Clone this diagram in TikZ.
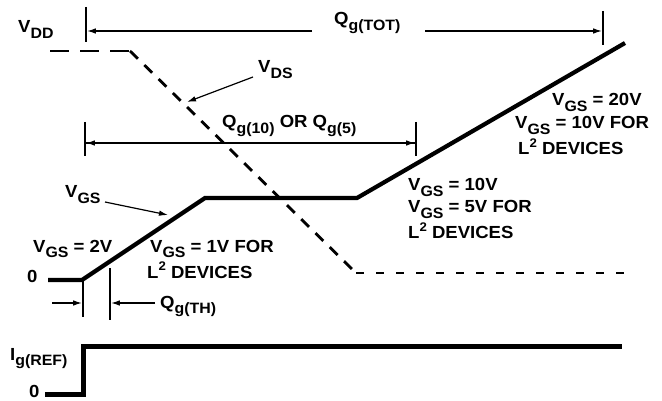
\documentclass[tikz,border=0pt]{standalone}
\usepackage{fontspec}
\setmainfont[FakeStretch=1.06]{Liberation Sans}
\usetikzlibrary{arrows.meta}
\newcommand{\sbs}[1]{\raisebox{-0.3em}{\fontsize{15}{15}\selectfont #1}}
\newcommand{\sps}[1]{\raisebox{0.42em}{\fontsize{12.5}{12.5}\selectfont #1}}
\tikzset{
  lbl/.style={font=\fontsize{17.5}{19}\selectfont\bfseries, inner sep=0pt, anchor=base west},
  thinln/.style={line width=1.4pt},
  arr/.style={line width=1.4pt, -{Latex[length=9pt,width=5.5pt]}},
  wave/.style={line width=4.2pt, line join=miter},
  dsh/.style={line width=2.8pt},
}
\begin{document}
\begin{tikzpicture}[x=1pt,y=-1pt]
\useasboundingbox (0,0) rectangle (662,401);
% labels
\node[lbl] (vdd) at (18,33) {V\sbs{DD}};
\node[lbl] (qtot) at (334,25) {Q\sbs{g(TOT)}};
\node[lbl] (vds) at (258,73) {V\sbs{DS}};
\node[lbl] (q10) at (222,128) {Q\sbs{g(10)} OR Q\sbs{g(5)}};
\node[lbl] (vgs) at (65,198) {V\sbs{GS}};
\node[lbl] (r1) at (552,106) {V\sbs{GS} = 20V};
\node[lbl] (r2) at (515,129) {V\sbs{GS} = 10V FOR};
\node[lbl] (r3) at (518,155) {L\sps{2} DEVICES};
\node[lbl] (m1) at (408,191) {V\sbs{GS} = 10V};
\node[lbl] (m2) at (408,213) {V\sbs{GS} = 5V FOR};
\node[lbl] (m3) at (408,239) {L\sps{2} DEVICES};
\node[lbl] (l0) at (33,252) {V\sbs{GS} = 2V};
\node[lbl] (l1) at (150,252) {V\sbs{GS} = 1V FOR};
\node[lbl] (l2) at (147,278) {L\sps{2} DEVICES};
\node[lbl] (z1) at (27,283) {0};
\node[lbl] (qth) at (160,308) {Q\sbs{g(TH)}};
\node[lbl] (ig) at (10,360) {I\sbs{g(REF)}};
\node[lbl] (z2) at (29,397) {0};
% coordinates
\coordinate (t1a) at (86,7);   \coordinate (t1b) at (86,42);
\coordinate (t2a) at (603,11); \coordinate (t2b) at (603,45);
\coordinate (a1s) at (312,31); \coordinate (a1e) at (86,31);
\coordinate (a2s) at (425,31); \coordinate (a2e) at (603,31);
\coordinate (t3a) at (85,122); \coordinate (t3b) at (85,156);
\coordinate (t4a) at (416,122); \coordinate (t4b) at (416,156);
\coordinate (a3s) at (416,143); \coordinate (a3e) at (85,143);
\coordinate (vds0) at (50,51); \coordinate (vds1) at (130,51);
\coordinate (vds2) at (356,273); \coordinate (vds3) at (628,273);
\coordinate (g0) at (48,280); \coordinate (g1) at (82,280);
\coordinate (g2) at (205,198); \coordinate (g3) at (357,198);
\coordinate (g4) at (625,43);
\coordinate (t5a) at (83,280); \coordinate (t5b) at (83,317);
\coordinate (t6a) at (110,268); \coordinate (t6b) at (110,320);
\coordinate (a4s) at (52,303); \coordinate (a4e) at (83,303);
\coordinate (a5s) at (155,303); \coordinate (a5e) at (110,303);
\coordinate (i0) at (45,394); \coordinate (i1) at (83,394);
\coordinate (i2) at (83,346); \coordinate (i3) at (622,346);
\coordinate (vdsq) at (253,77); \coordinate (vdsp) at (187,102);
\coordinate (vgsq) at (105,202); \coordinate (vgsp) at (168,215);
% ticks
\draw[thinln] (t1a) -- (t1b);
\draw[thinln] (t2a) -- (t2b);
\draw[thinln] (t3a) -- (t3b);
\draw[thinln] (t4a) -- (t4b);
\draw[thinln] (t5a) -- (t5b);
\draw[thinln] (t6a) -- (t6b);
% dimension arrows
\draw[arr] (a1s) -- ([xshift=0.8pt]a1e);
\draw[arr] (a2s) -- ([xshift=-0.8pt]a2e);
\draw[arr] (a3s) -- ([xshift=0.8pt]a3e);
\draw[arr] (a3e) -- ([xshift=-0.8pt]a3s);
\draw[arr] (a4s) -- ([xshift=-0.8pt]a4e);
\draw[arr] (a5s) -- ([xshift=0.8pt]a5e);
% pointer arrows
\draw[arr, line width=1.2pt] (vdsq) -- (vdsp);
\draw[arr, line width=1.2pt] (vgsq) -- (vgsp);
% VDS dashed
\draw[dsh, dash pattern=on 19pt off 11pt] (vds0) -- (vds1);
\draw[dsh, dash pattern=on 11pt off 9pt] (vds1) -- (vds2);
\draw[dsh, dash pattern=on 8pt off 12pt] (vds2) -- (vds3);
% VGS waveform
\draw[wave] (g0) -- (g1) -- (g2) -- (g3) -- (g4);
% Ig(REF)
\draw[line width=5pt, line join=miter] (i0) -- (i1) -- (i2) -- (i3);
\end{tikzpicture}
\end{document}
